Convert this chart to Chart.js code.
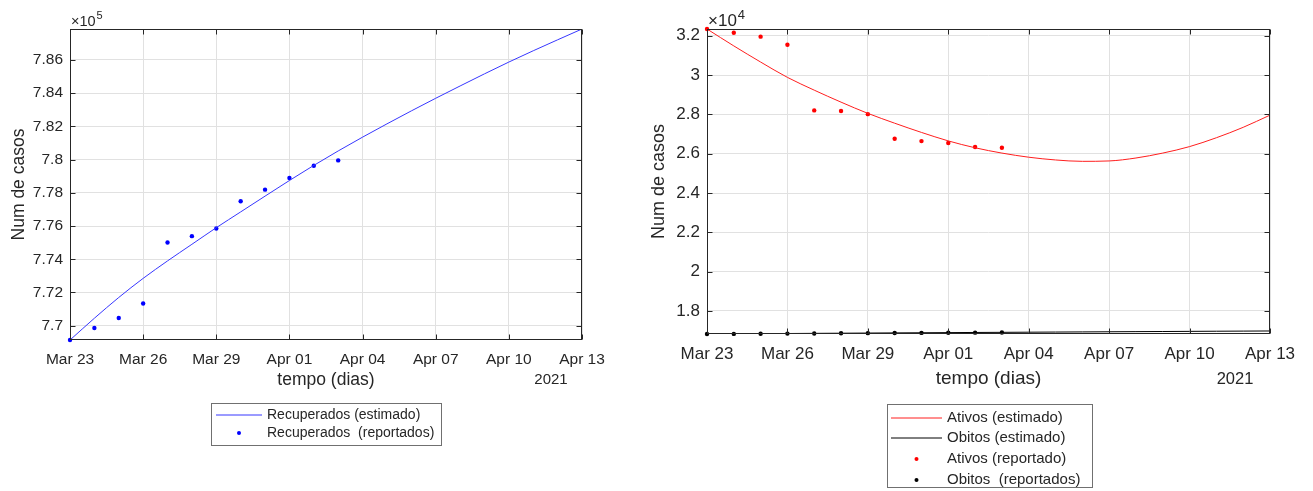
<!DOCTYPE html>
<html lang="pt">
<head>
  <meta charset="UTF-8">
  <title>Recuperados, Ativos e Obitos</title>
  <script src="https://cdn.jsdelivr.net/npm/chart.js"></script>
  <style>
    body { margin: 0; background: #fff; width: 1313px; height: 491px; overflow: hidden; position: relative; }
    .painel { position: absolute; top: 0; height: 491px; }
    #painelEsq { left: 0; width: 640px; }
    #painelDir { left: 640px; width: 673px; }
  </style>
</head>
<body>
  <div class="painel" id="painelEsq"><canvas id="graficoRecuperados"></canvas></div>
  <div class="painel" id="painelDir"><canvas id="graficoAtivos"></canvas></div>

  <script>
    // dias desde 23 de março de 2021
    const dias = [0, 1, 2, 3, 4, 5, 6, 7, 8, 9, 10, 11, 12, 13, 14, 15, 16, 17, 18, 19, 20, 21];
    const diasReportados = [0, 1, 2, 3, 4, 5, 6, 7, 8, 9, 10, 11];
    const ticksX = [0, 3, 6, 9, 12, 15, 18, 21];
    const rotulosX = ['Mar 23', 'Mar 26', 'Mar 29', 'Apr 01', 'Apr 04', 'Apr 07', 'Apr 10', 'Apr 13'];

    // Recuperados
    const recuperadosEstimado = [769140, 770450, 771700, 772850, 773900, 774900, 775900, 776850, 777800, 778740, 779650,
      780520, 781350, 782150, 782930, 783690, 784430, 785160, 785870, 786550, 787210, 787860];
    const recuperadosReportado = [769140, 769860, 770460, 771340, 775010, 775390, 775850, 777490, 778190, 778890, 779630, 779950];
    const ticksRecuperados = [770000, 772000, 774000, 776000, 778000, 780000, 782000, 784000, 786000];

    // Ativos e Obitos
    const ativosEstimado = [32340, 31480, 30660, 29880, 29230, 28620, 28050, 27550, 27080, 26650, 26300,
      26030, 25820, 25680, 25610, 25630, 25780, 26030, 26360, 26810, 27340, 27960];
    const obitosEstimado = [16830, 16839, 16847, 16855, 16863, 16870, 16878, 16886, 16893, 16900, 16908,
      16915, 16922, 16929, 16936, 16943, 16950, 16957, 16964, 16971, 16977, 16984];
    const ativosReportado = [32340, 32150, 31950, 31540, 28200, 28170, 28010, 26760, 26640, 26540, 26340, 26300];
    const obitosReportado = [16830, 16836, 16843, 16850, 16858, 16866, 16872, 16878, 16885, 16893, 16899, 16905];
    const ticksAtivos = [18000, 20000, 22000, 24000, 26000, 28000, 30000, 32000];

    const familia = '"Liberation Sans", Arial, Helvetica, sans-serif';
    const corTexto = '#262626';
    Chart.defaults.font.family = familia;
    Chart.defaults.color = corTexto;

    const pares = (xs, ys) => xs.map((x, i) => ({ x: x, y: ys[i] }));

    // moldura da área, ticks internos, expoente e ano
    const moldura = {
      id: 'moldura',
      afterDraw(chart, args, opts) {
        const { ctx, chartArea: a, scales } = chart;
        const L = Math.round(a.left) + 0.5, R = Math.round(a.right) - 0.5;
        const T = Math.round(a.top) + 0.5, B = Math.round(a.bottom) - 0.5;
        ctx.save();
        ctx.strokeStyle = corTexto;
        ctx.lineWidth = 1;
        ctx.beginPath();
        scales.x.ticks.forEach(t => {
          const px = Math.round(scales.x.getPixelForValue(t.value)) + 0.5;
          ctx.moveTo(px, B); ctx.lineTo(px, B - 5);
          ctx.moveTo(px, T); ctx.lineTo(px, T + 5);
        });
        scales.y.ticks.forEach(t => {
          const py = Math.round(scales.y.getPixelForValue(t.value)) + 0.5;
          ctx.moveTo(L, py); ctx.lineTo(L + 5, py);
          ctx.moveTo(R, py); ctx.lineTo(R - 5, py);
        });
        ctx.stroke();
        ctx.strokeRect(L, T, R - L, B - T);

        ctx.fillStyle = corTexto;
        ctx.textBaseline = 'alphabetic';
        ctx.textAlign = 'left';
        ctx.font = opts.fonteExp + 'px ' + familia;
        const base = '\u00d710';
        ctx.fillText(base, a.left + 1, a.top - 3);
        const w = ctx.measureText(base).width;
        ctx.font = Math.round(opts.fonteExp * 0.78) + 'px ' + familia;
        ctx.fillText(opts.expoente, a.left + 1 + w + 1, a.top - 10);

        ctx.font = opts.fonteAno + 'px ' + familia;
        ctx.textAlign = 'center';
        ctx.textBaseline = 'middle';
        ctx.fillText('2021', opts.anoX, opts.anoY);
        ctx.restore();
      }
    };

    // legenda com caixa, abaixo do gráfico
    const legendaCaixa = {
      id: 'legendaCaixa',
      afterDraw(chart, args, opts) {
        const ctx = chart.ctx;
        ctx.save();
        ctx.fillStyle = '#fff';
        ctx.fillRect(opts.x, opts.y, opts.w, opts.h);
        ctx.strokeStyle = '#707070';
        ctx.lineWidth = 1;
        ctx.strokeRect(opts.x + 0.5, opts.y + 0.5, opts.w, opts.h);
        ctx.font = opts.fonte + 'px ' + familia;
        ctx.textBaseline = 'middle';
        ctx.textAlign = 'left';
        opts.ordem.forEach((idx, i) => {
          const ds = chart.data.datasets[idx];
          const yy = opts.linhas[i];
          if (ds.showLine !== false) {
            ctx.strokeStyle = ds.borderColor;
            ctx.beginPath();
            ctx.moveTo(opts.amostra[0], Math.round(yy));
            ctx.lineTo(opts.amostra[1], Math.round(yy));
            ctx.stroke();
          } else {
            ctx.fillStyle = ds.backgroundColor;
            ctx.beginPath();
            ctx.arc((opts.amostra[0] + opts.amostra[1]) / 2, yy, 2, 0, Math.PI * 2);
            ctx.fill();
          }
          ctx.fillStyle = corTexto;
          ctx.fillText(ds.label, opts.texto, yy);
        });
        ctx.restore();
      }
    };

    function eixoX(fonteTicks, fonteTitulo, padTitulo) {
      return {
        type: 'linear',
        min: 0,
        max: 21,
        afterBuildTicks: s => { s.ticks = ticksX.map(v => ({ value: v })); },
        afterFit: s => { s.height = 60; },
        ticks: {
          padding: 10,
          maxRotation: 0,
          autoSkip: false,
          font: { size: fonteTicks },
          callback: v => rotulosX[ticksX.indexOf(v)]
        },
        grid: { color: '#e1e1e1', drawTicks: false },
        border: { display: false },
        title: {
          display: true,
          text: 'tempo (dias)',
          font: { size: fonteTitulo },
          padding: { top: 0, bottom: padTitulo }
        }
      };
    }

    function eixoY(min, max, valores, divisor, largura, fonteTicks, fonteTitulo, padTitulo) {
      return {
        type: 'linear',
        min: min,
        max: max,
        afterBuildTicks: s => { s.ticks = valores.map(v => ({ value: v })); },
        afterFit: s => { s.width = largura; },
        ticks: {
          padding: 7,
          font: { size: fonteTicks },
          callback: v => String(parseFloat((v / divisor).toFixed(2)))
        },
        grid: { color: '#e1e1e1', drawTicks: false },
        border: { display: false },
        title: {
          display: true,
          text: 'Num de casos',
          font: { size: fonteTitulo },
          padding: { top: padTitulo, bottom: 0 }
        }
      };
    }

    const comum = {
      responsive: true,
      maintainAspectRatio: false,
      animation: false,
      devicePixelRatio: 1,
      events: []
    };

    const pontos = (rotulo, xs, ys, cor) => ({
      label: rotulo,
      data: pares(xs, ys),
      showLine: false,
      backgroundColor: cor,
      borderColor: cor,
      pointRadius: 2.2,
      pointBorderWidth: 0,
      clip: 4
    });

    new Chart(document.getElementById('graficoRecuperados'), {
      type: 'line',
      data: {
        datasets: [
          {
            label: 'Recuperados (estimado)',
            data: pares(dias, recuperadosEstimado),
            borderColor: 'rgb(55, 55, 255)',
            borderWidth: 1,
            pointRadius: 0,
            cubicInterpolationMode: 'monotone'
          },
          pontos('Recuperados  (reportados)', diasReportados, recuperadosReportado, 'rgb(0, 0, 255)')
        ]
      },
      options: {
        ...comum,
        layout: { padding: { left: 0, top: 29, right: 58, bottom: 91 } },
        scales: {
          x: eixoX(15.5, 17.5, 9.5),
          y: eixoY(769140, 787860, ticksRecuperados, 1e5, 70, 15.5, 17.5, 8.5)
        },
        plugins: {
          legend: { display: false },
          tooltip: { enabled: false },
          moldura: { expoente: '5', fonteExp: 14.5, fonteAno: 15, anoX: 551, anoY: 380 },
          legendaCaixa: {
            x: 211, y: 403, w: 230, h: 42, fonte: 14,
            amostra: [216, 262], texto: 267, linhas: [415, 433], ordem: [0, 1]
          }
        }
      },
      plugins: [moldura, legendaCaixa]
    });

    new Chart(document.getElementById('graficoAtivos'), {
      type: 'line',
      data: {
        datasets: [
          {
            label: 'Ativos (estimado)',
            data: pares(dias, ativosEstimado),
            borderColor: 'rgb(255, 30, 30)',
            borderWidth: 1,
            pointRadius: 0,
            cubicInterpolationMode: 'monotone'
          },
          {
            label: 'Obitos (estimado)',
            data: pares(dias, obitosEstimado),
            borderColor: 'rgb(0, 0, 0)',
            borderWidth: 1,
            pointRadius: 0,
            cubicInterpolationMode: 'monotone'
          },
          pontos('Ativos (reportado)', diasReportados, ativosReportado, 'rgb(255, 0, 0)'),
          pontos('Obitos  (reportados)', diasReportados, obitosReportado, 'rgb(0, 0, 0)')
        ]
      },
      options: {
        ...comum,
        layout: { padding: { left: 0, top: 29, right: 43, bottom: 97 } },
        scales: {
          x: eixoX(17, 19, 3.6),
          y: eixoY(16830, 32340, ticksAtivos, 1e4, 67, 17, 18, 8)
        },
        plugins: {
          legend: { display: false },
          tooltip: { enabled: false },
          moldura: { expoente: '4', fonteExp: 17, fonteAno: 16.5, anoX: 595, anoY: 379 },
          legendaCaixa: {
            x: 247, y: 404, w: 205, h: 83, fonte: 15,
            amostra: [251, 302], texto: 307, linhas: [418, 438, 459, 480], ordem: [0, 1, 2, 3]
          }
        }
      },
      plugins: [moldura, legendaCaixa]
    });
  </script>
</body>
</html>
